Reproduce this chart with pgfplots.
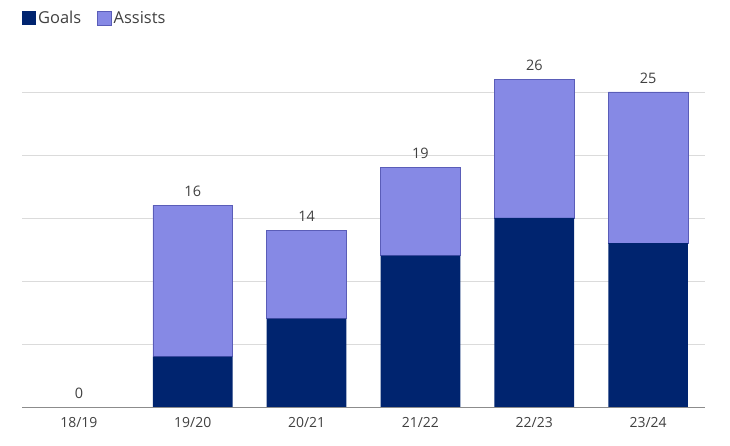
\documentclass[border=0pt]{standalone}
\usepackage{pgfplots}
\pgfplotsset{compat=1.18}
\usepackage{fontspec}
\setmainfont{Open Sans}
\definecolor{goals}{HTML}{00246F}
\definecolor{assists}{HTML}{8689E5}
\definecolor{assistsedge}{HTML}{5A5DB8}
\definecolor{txt}{HTML}{404040}
\begin{document}
\begin{tikzpicture}[x=1bp,y=1bp]
\useasboundingbox (-22,-39) rectangle (708,407);
\begin{axis}[at={(0,0)}, anchor=south west,
  width=683bp, height=353bp, scale only axis,
  xmin=-0.5, xmax=5.5, ymin=0, ymax=28,
  ybar stacked, bar width=0.7,
  separate axis lines,
  axis x line*=bottom, axis y line*=left,
  x axis line style={draw=black!45, line width=0.9pt, -},
  y axis line style={draw=none},
  ytick={5,10,15,20,25}, yticklabels={},
  ymajorgrids, grid style={draw=black!14, line width=0.6pt},
  major tick length=0,
  xtick=data,
  xticklabels={18/19,19/20,20/21,21/22,22/23,23/24},
  x tick label style={font=\fontsize{14}{16}\selectfont, text=txt, yshift=-7bp},
  legend style={at={(0,1.102)}, anchor=west, draw=none, fill=none,
    legend columns=-1, inner xsep=0pt, inner ysep=0pt,
    font=\fontsize{16.5}{18}\selectfont, text=txt,
    /tikz/every even column/.append style={column sep=14bp}},
  legend cell align=left,
  legend image code/.code={\fill[#1] (0bp,-7bp) rectangle (14bp,7bp);},
]
\addplot[fill=goals, draw=none] coordinates {(0,0) (1,4) (2,7) (3,12) (4,15) (5,13)};
\addplot[fill=assists, draw=assistsedge, line width=0.5pt]
  coordinates {(0,0) (1,12) (2,7) (3,7) (4,11) (5,12)};
\legend{Goals, Assists}
\end{axis}
\begin{axis}[at={(0,0)}, anchor=south west,
  width=683bp, height=353bp, scale only axis,
  xmin=-0.5, xmax=5.5, ymin=0, ymax=28,
  axis lines=none, ybar, bar width=0.7]
\addplot[draw=none, fill=none,
  nodes near coords, point meta=explicit symbolic,
  every node near coord/.append style={font=\fontsize{14.5}{16}\selectfont, text=txt, anchor=south, yshift=5bp}]
  coordinates {(0,0) [0] (1,16) [16] (2,14) [14] (3,19) [19] (4,26) [26] (5,25) [25]};
\end{axis}
\end{tikzpicture}
\end{document}
